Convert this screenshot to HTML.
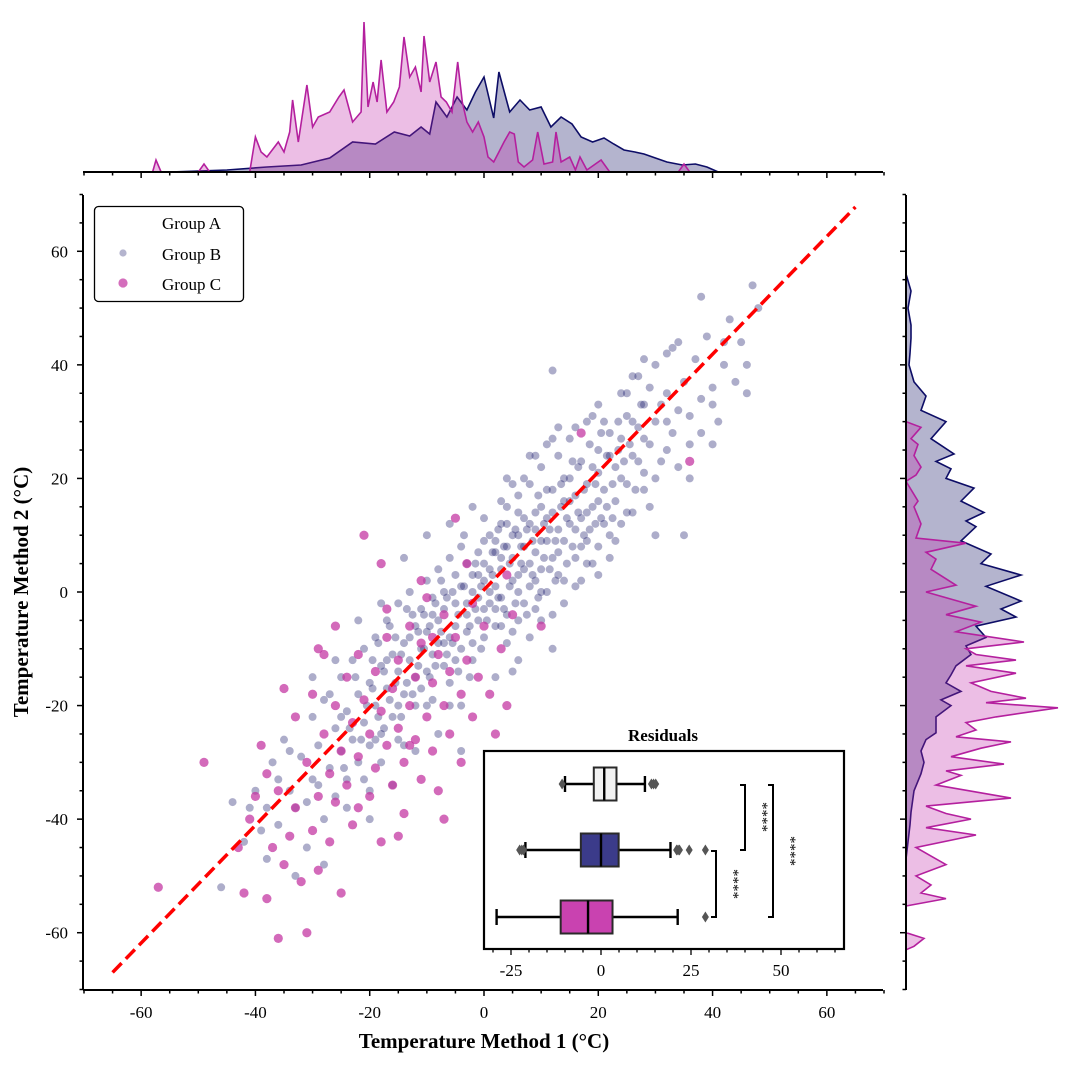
<!DOCTYPE html>
<html><head><meta charset="utf-8"><style>
html,body{margin:0;padding:0;background:#fff;}
svg{display:block;font-family:"Liberation Serif",serif;}
</style></head><body>
<svg id="chart" width="1080" height="1065" viewBox="0 0 1080 1065" xmlns="http://www.w3.org/2000/svg"></svg>
<script>
// ---- data ----
const groupBPoints = [[-44,-37],[-42,-44],[-40,-35],[-38,-47],[-37,-30],[-36,-41],[-35,-26],[-34,-35],[-33,-38],[-32,-29],[-31,-45],[-30,-22],[-30,-33],[-29,-27],[-28,-40],[-28,-19],[-27,-31],[-26,-24],[-26,-36],[-25,-15],[-25,-28],[-24,-21],[-24,-33],[-23,-12],[-23,-26],[-22,-18],[-22,-30],[-21,-23],[-21,-10],[-20,-16],[-20,-27],[-19,-20],[-19,-8],[-18,-13],[-18,-25],[-17,-17],[-17,-5],[-16,-22],[-16,-11],[-15,-14],[-15,-2],[-15,-26],[-14,-9],[-14,-18],[-13,-12],[-13,0],[-12,-6],[-12,-20],[-12,-15],[-11,-3],[-11,-10],[-10,-14],[-10,2],[-10,-7],[-9,-11],[-9,-1],[-9,-19],[-8,-5],[-8,4],[-8,-9],[-7,-13],[-7,0],[-7,-3],[-6,-8],[-6,6],[-6,-16],[-5,-2],[-5,-6],[-5,3],[-4,-10],[-4,1],[-4,8],[-3,-4],[-3,-7],[-3,5],[-2,0],[-2,-12],[-2,3],[-1,-5],[-1,7],[-1,-1],[0,2],[0,-8],[0,5],[0,-3],[1,10],[1,-2],[1,4],[2,-6],[2,7],[2,1],[3,-1],[3,12],[3,4],[4,-4],[4,8],[4,15],[5,2],[5,6],[5,-7],[6,10],[6,3],[6,17],[7,-2],[7,8],[7,13],[8,5],[8,1],[8,19],[9,11],[9,7],[9,-3],[10,15],[10,4],[10,22],[11,9],[11,13],[11,0],[12,18],[12,6],[13,11],[13,24],[13,3],[14,16],[14,9],[15,20],[15,27],[15,12],[16,6],[16,17],[17,23],[17,13],[18,30],[18,19],[18,9],[19,15],[20,25],[20,21],[20,33],[21,12],[21,18],[22,28],[23,22],[23,16],[24,35],[24,27],[25,19],[25,31],[26,24],[27,38],[27,29],[28,21],[28,33],[29,26],[30,40],[30,30],[31,23],[32,35],[33,28],[33,43],[34,32],[35,37],[36,26],[37,41],[38,34],[39,45],[40,36],[41,30],[42,40],[43,48],[44,37],[45,44],[46,35],[47,54],[48,50],[34,44],[32,42],[26,38],[22,10],[19,5],[14,-2],[6,-12],[2,-15],[-2,15],[-6,12],[-10,10],[-14,6],[-18,-2],[-22,-5],[-26,-12],[-30,-15],[-16,-34],[-20,-35],[-24,-38],[-8,-25],[-4,-20],[10,-5],[17,2],[23,9],[29,15],[36,20],[40,26],[42,44],[38,52],[28,41],[25,14],[12,27],[8,24],[4,20],[0,13],[-4,-28],[-12,-28],[-28,-48],[-46,-52],[-20,-40],[16,29],[5,-14],[12,-10],[20,8],[30,10],[-33,-50],[-38,-38],[12,39],[46,40],[35,10],[1,0],[3,6],[5,10],[7,4],[9,14],[11,18],[13,7],[15,16],[17,8],[19,22],[2,-3],[4,-9],[6,0],[8,12],[10,9],[12,14],[14,20],[16,11],[18,14],[20,16],[-1,3],[-3,-2],[-5,-12],[-7,-9],[-9,-4],[-11,-17],[-13,-8],[-15,-20],[-17,-12],[-19,-26],[22,24],[24,20],[26,30],[28,27],[31,33],[-2,-9],[0,9],[3,-6],[6,14],[9,2],
[-0.5,1],[1.5,3],[2.5,-1],[3.5,8],[4.5,1],[5.5,11],[6.5,5],[7.5,-4],[8.5,9],[9.5,17],[10.5,6],[11.5,11],[12.5,2],[13.5,15],[14.5,13],[15.5,8],[16.5,22],[17.5,18],[18.5,11],[19.5,19],[20.5,13],[21.5,24],[22.5,19],[23.5,30],[24.5,23],[25.5,26],[26.5,18],[27.5,33],[-1.5,-3],[-2.5,-6],[-3.5,1],[-4.5,-4],[-5.5,-9],[-6.5,-1],[-7.5,-7],[-8.5,-13],[-9.5,-6],[-10.5,-10],[-11.5,-13],[-12.5,-4],[-13.5,-16],[-14.5,-11],[-15.5,-8],[-16.5,-19],[-17.5,-14],[-18.5,-22],[-19.5,-17],[-20.5,-20],[-21.5,-26],[-22.5,-15],[-23.5,-24],[-24.5,-31],[0.5,-5],[1.5,7],[2.5,11],[3.5,-3],[4.5,5],[5.5,-2],[6.5,8],[7.5,11],[8.5,3],[9.5,-1],[10.5,12],[11.5,4],[12.5,9],[13.5,19],[14.5,5],[15.5,23],[16.5,14],[17.5,10],[18.5,26],[19.5,12],[20.5,28],[21.5,15],[22.5,13],[23.5,25],[-0.5,-10],[-1.5,5],[-2.5,-15],[-3.5,10],[-4.5,-14],[-5.5,0],[-6.5,-11],[-7.5,2],[-8.5,-2],[-9.5,-15],[-10.5,-4],[-11.5,-7],[-12.5,-18],[-13.5,-3],[-14.5,-22],[-15.5,-16],[-16.5,-6],[-17.5,-24],[-18.5,-9],[-19.5,-12],[3,16],[5,19],[7,20],[9,24],[11,26],[13,29],[2,9],[4,12],[6,-5],[8,-8],[10,0],[12,-4],[14,2],[16,1],[18,5],[20,3],[22,6],[24,12],[26,14],[28,18],[30,20],[32,25],[34,22],[36,31],[38,28],[40,33],[32,30],[29,36],[27,23],[25,35],[21,30],[19,31],[-6,-20],[-10,-20],[-14,-27],[-18,-30],[-21,-33],[-25,-22],[-27,-18],[-29,-34],[-31,-37],[-34,-28],[-36,-33],[-39,-42],[-41,-38]];
const groupCPoints = [[-57,-52],[-49,-30],[-42,-53],[-41,-40],[-40,-36],[-39,-27],[-38,-32],[-37,-45],[-36,-61],[-36,-35],[-35,-48],[-34,-43],[-33,-22],[-33,-38],[-32,-51],[-31,-60],[-31,-30],[-30,-42],[-30,-18],[-29,-49],[-29,-36],[-28,-25],[-28,-11],[-27,-44],[-27,-32],[-26,-20],[-26,-37],[-25,-53],[-25,-28],[-24,-15],[-24,-34],[-23,-23],[-23,-41],[-22,-11],[-22,-29],[-21,10],[-21,-19],[-20,-36],[-20,-25],[-19,-14],[-19,-31],[-18,-44],[-18,-21],[-17,-8],[-17,-27],[-16,-17],[-16,-34],[-15,-24],[-15,-12],[-14,-30],[-14,-39],[-13,-20],[-13,-6],[-12,-26],[-12,-15],[-11,-33],[-11,-9],[-10,-22],[-10,-1],[-9,-28],[-9,-16],[-8,-11],[-8,-35],[-7,-20],[-7,-4],[-6,-25],[-6,-14],[-5,-8],[-5,13],[-4,-18],[-4,-30],[-3,-12],[-2,-2],[-2,-22],[-1,-15],[0,-6],[1,-18],[2,-25],[3,-10],[4,3],[5,-4],[10,-6],[4,-20],[-3,5],[-35,-17],[-43,-45],[-38,-54],[-22,-38],[-15,-43],[-11,2],[-18,5],[-26,-6],[36,23],[17,28],[-7,-40],[-29,-10],[-17,-3],[-9,-8],[-13,-27]];
// top marginal (x value, density height)
const topBx = [-55,-45,-38,-32,-27,-23,-19,-15.7,-13,-11,-9.5,-8.4,-6.5,-4.7,-3,-1.5,0,1.7,2.6,4.5,6.3,8,10,11.7,13.5,15.4,17,19,21,22.7,24.5,26.4,28,30,32,34.7,37,39,41];
const topBh = [0,2,5,7,14,30,28,40,36,45,38,70,55,75,62,80,95,54,100,60,72,62,65,45,55,48,35,30,34,28,22,20,18,14,10,7,8,5,0];
const topCx = [-58,-57.4,-56.5,-50,-49,-48,-41,-40,-39,-38,-36,-35,-34,-33.5,-32.5,-31,-30,-29,-27,-25.4,-24.5,-23,-21.5,-21,-20.3,-19.4,-18.7,-18,-17,-15.8,-14.8,-14,-13,-12,-11,-10.5,-9.5,-8.4,-7.5,-6.6,-5.6,-4.6,-3.8,-3,-2,-1,0,0.7,1.7,2.6,3.5,4.5,5.3,6,7,8.5,9.4,10.5,12,12.6,13.5,15,16,16.8,18,20.5,22,34,35,36];
const topCh = [0,12,0,0,8,0,0,35,20,15,30,20,40,72,30,87,45,55,60,75,82,50,60,150,65,90,70,112,60,70,85,135,95,105,80,136,90,110,75,70,60,110,70,50,40,50,35,15,10,20,30,40,38,10,5,12,40,8,10,40,10,15,2,15,2,12,0,0,8,0];
// right marginal (y value, density width)
const rightBy = [56,53,50,47,44.7,42,40,37,34.5,32,30,27,24.3,23,21.7,20,18.3,16,14,12.5,11.5,9,6.7,5,3,1,-1.6,-3,-4.4,-6,-8,-9.5,-11,-13,-14.6,-16,-17.5,-19,-20,-22,-24.8,-26,-28,-30,-32,-35,-38.8,-41,-44,-47];
const rightBh = [0,5,2,5,5,4,3,8,20,15,40,25,48,30,45,40,68,55,78,60,70,55,85,75,115,80,115,95,110,70,80,60,65,50,45,40,55,35,45,30,30,20,15,18,15,8,5,4,2,0];
const rightCy = [30,29,27,26,24,22,20.6,19.5,16,15,12,9.5,8.6,7,5.8,4,1.2,0,-2.5,-4,-5.3,-7,-8.8,-10,-11,-12,-13,-14.3,-16,-17.5,-18.7,-19.5,-20.4,-22,-23,-24.3,-25.5,-26.4,-27.5,-29,-30.3,-31.5,-32.3,-34,-36.3,-37.7,-39,-40,-41.5,-42.8,-45,-46.5,-48,-50,-51.6,-53,-54,-55.3,-60,-61,-62.4,-63];
const rightCh = [0,15,5,12,8,15,10,0,12,8,15,10,60,20,30,25,50,20,70,40,75,50,118,60,70,110,60,110,65,85,120,80,152,90,60,70,50,105,75,45,98,40,55,30,105,20,40,65,20,70,10,25,40,10,25,15,40,0,0,18,8,0];
// residual boxplots
const boxGroups = ['Group A','Group B','Group C'];
const boxQ1 = [-2, -5.6, -11.2];
const boxMed = [0.9, 0, -3.6];
const boxQ3 = [4.3, 4.9, 3.2];
const boxLo = [-10, -21, -29];
const boxHi = [12.2, 19.3, 21.3];
const boxFliers = [[-10.8, 14, 14.6, 15.2], [-22, -22.6, -21.5, 21, 21.4, 21.8, 24.5, 29], [29]];
const xTicks = [-60,-40,-20,0,20,40,60];
const yTicks = [-60,-40,-20,0,20,40,60];
const insetTicks = [-25,0,25,50];

// ---- scales ----
const PX0=83, PX1=883, PY0=195, PY1=990;
const sx = v => 484 + v*(PX1-PX0)/140;
const sy = v => 592 - v*(PY1-PY0)/140;
const IX0=484, IX1=844, IY0=751, IY1=949;
const ix = v => 601 + v*3.6;
const boxY = [784, 850, 917];
const topBase = 172, rightBase = 906;

const svg = document.getElementById('chart');
const NS='http://www.w3.org/2000/svg';
function mk(tag, attrs, parent){
  const e=document.createElementNS(NS,tag);
  for(const k in attrs) e.setAttribute(k, attrs[k]);
  (parent||svg).appendChild(e); return e;
}
function txt(s, attrs, parent){ const t=mk('text',attrs,parent); t.textContent=s; return t; }

// ---- top marginal ----
const gTop = mk('g',{});


function topPath(xs, hs){
  let d='M'+sx(xs[0])+','+topBase;
  xs.forEach((x,i)=>{ d+=' L'+sx(x).toFixed(1)+','+(topBase-hs[i]).toFixed(1); });
  d+=' L'+sx(xs[xs.length-1])+','+topBase+' Z'; return d;
}
const tB = mk('path',{d:topPath(topBx,topBh),fill:'rgba(27,27,107,0.33)',stroke:'#0d0d66','stroke-width':1.6},gTop);


const tC = mk('path',{d:topPath(topCx,topCh),fill:'rgba(192,40,170,0.3)',stroke:'#b4209e','stroke-width':1.6},gTop);


mk('line',{x1:PX0,x2:PX1,y1:topBase,y2:topBase,stroke:'#000','stroke-width':2},gTop);
for(let v=-70; v<=70; v+=5){
  const major = v%20===0;
  mk('line',{x1:sx(v),x2:sx(v),y1:topBase,y2:topBase+(major?6:3.5),stroke:'#000','stroke-width':1.5},gTop);
}

// ---- right marginal ----
const gR = mk('g',{});


function rightPath(ys, hs){
  let d='M'+rightBase+','+sy(ys[0]);
  ys.forEach((y,i)=>{ d+=' L'+(rightBase+hs[i]).toFixed(1)+','+sy(y).toFixed(1); });
  d+=' L'+rightBase+','+sy(ys[ys.length-1])+' Z'; return d;
}
const rB = mk('path',{d:rightPath(rightBy,rightBh),fill:'rgba(27,27,107,0.33)',stroke:'#0d0d66','stroke-width':1.6},gR);


const rC = mk('path',{d:rightPath(rightCy,rightCh),fill:'rgba(192,40,170,0.3)',stroke:'#b4209e','stroke-width':1.6},gR);


mk('line',{x1:rightBase,x2:rightBase,y1:PY0,y2:PY1,stroke:'#000','stroke-width':2},gR);
for(let v=-70; v<=70; v+=5){
  const major = v%20===0;
  mk('line',{x1:rightBase-(major?6:3.5),x2:rightBase,y1:sy(v),y2:sy(v),stroke:'#000','stroke-width':1.5},gR);
}

// ---- scatter ----
const gS = mk('g',{});


groupBPoints.forEach(p=>{
  const c = mk('circle',{cx:sx(p[0]),cy:sy(p[1]),r:4,fill:'#1b1b6b','fill-opacity':0.36},gS);
  
  
});
groupCPoints.forEach(p=>{
  const c = mk('circle',{cx:sx(p[0]),cy:sy(p[1]),r:4.6,fill:'#c2309f','fill-opacity':0.72},gS);
  
  
});
const ref = mk('line',{x1:sx(-65),y1:sy(-67),x2:sx(65),y2:sy(67.8),stroke:'#ff0000','stroke-width':3.5,'stroke-dasharray':'13,6'});



// ---- main axes ----
const gA = mk('g',{});


mk('line',{x1:PX0,x2:PX0,y1:PY0,y2:PY1,stroke:'#000','stroke-width':2},gA);
mk('line',{x1:PX0,x2:PX1,y1:PY1,y2:PY1,stroke:'#000','stroke-width':2},gA);
for(let v=-70; v<=70; v+=5){
  const major=v%20===0;
  mk('line',{x1:sx(v),x2:sx(v),y1:PY1,y2:PY1+(major?6:3.5),stroke:'#000','stroke-width':1.5},gA);
  mk('line',{x1:PX0-(major?6:3.5),x2:PX0,y1:sy(v),y2:sy(v),stroke:'#000','stroke-width':1.5},gA);
}
xTicks.forEach(v=>{
  const t=txt(String(v),{x:sx(v),y:1018,'text-anchor':'middle','font-size':17},gA);
  
  
});
yTicks.forEach(v=>{
  const t=txt(String(v),{x:68,y:sy(v)+6,'text-anchor':'end','font-size':17},gA);
  
  
});
const xl=txt('Temperature Method 1 (°C)',{x:484,y:1048,'text-anchor':'middle','font-size':21,'font-weight':'bold'});


const yl=txt('Temperature Method 2 (°C)',{x:0,y:0,'text-anchor':'middle','font-size':21,'font-weight':'bold',transform:'translate(28,592) rotate(-90)'});



// ---- legend ----
const gL = mk('g',{});


mk('rect',{x:94.5,y:206.5,width:149,height:95,rx:4,fill:'#fff',stroke:'#000','stroke-width':1.3},gL);
const l1=txt('Group A',{x:162,y:229,'font-size':17},gL);


mk('circle',{cx:123,cy:253,r:3.6,fill:'#1b1b6b','fill-opacity':0.33},gL);
const l2=txt('Group B',{x:162,y:260,'font-size':17},gL);


mk('circle',{cx:123,cy:283,r:4.6,fill:'#c2309f','fill-opacity':0.7},gL);
const l3=txt('Group C',{x:162,y:290,'font-size':17},gL);



// ---- inset boxplot ----
const gI = mk('g',{});


mk('rect',{x:IX0,y:IY0,width:IX1-IX0,height:IY1-IY0,fill:'#fff',stroke:'#000','stroke-width':2.2},gI);
const it=txt('Residuals',{x:663,y:741,'text-anchor':'middle','font-size':17,'font-weight':'bold'},gI);


for(let v=-30; v<=65; v+=5){
  const major=v%25===0;
  mk('line',{x1:ix(v),x2:ix(v),y1:IY1,y2:IY1+(major?6:3.5),stroke:'#000','stroke-width':1.3},gI);
}
insetTicks.forEach(v=>{
  const t=txt(String(v),{x:ix(v),y:976,'text-anchor':'middle','font-size':17},gI);
  
  
});
const boxFill=['#f2f2f2','#3b3b8a','#c942b0'];
boxGroups.forEach((g,i)=>{
  const y=boxY[i], h=33;
  const bg=mk('g',{},gI);
  
  
  mk('line',{x1:ix(boxLo[i]),x2:ix(boxQ1[i]),y1:y,y2:y,stroke:'#000','stroke-width':2.4},bg);
  mk('line',{x1:ix(boxQ3[i]),x2:ix(boxHi[i]),y1:y,y2:y,stroke:'#000','stroke-width':2.4},bg);
  mk('line',{x1:ix(boxLo[i]),x2:ix(boxLo[i]),y1:y-8,y2:y+8,stroke:'#000','stroke-width':2.4},bg);
  mk('line',{x1:ix(boxHi[i]),x2:ix(boxHi[i]),y1:y-8,y2:y+8,stroke:'#000','stroke-width':2.4},bg);
  mk('rect',{x:ix(boxQ1[i]),y:y-h/2,width:ix(boxQ3[i])-ix(boxQ1[i]),height:h,fill:boxFill[i],stroke:'#2a2a2a','stroke-width':2},bg);
  mk('line',{x1:ix(boxMed[i]),x2:ix(boxMed[i]),y1:y-h/2,y2:y+h/2,stroke:'#000','stroke-width':2.4},bg);
  boxFliers[i].forEach(f=>{
    const cx=ix(f);
    mk('path',{d:`M${cx-3.5},${y} L${cx},${y-5.5} L${cx+3.5},${y} L${cx},${y+5.5} Z`,fill:'#555'},bg);
  });
});
function bracket(x, y1, y2, sx2, sy2){
  mk('path',{d:`M${x-5},${y1} L${x},${y1} L${x},${y2} L${x-5},${y2}`,fill:'none',stroke:'#000','stroke-width':2},gI);
  const s=txt('****',{x:0,y:0,'text-anchor':'middle','font-size':15,transform:`translate(${sx2},${sy2}) rotate(90)`},gI);
  
  
}
bracket(716, 851, 917, 729, 884);
bracket(745, 785, 850, 758, 817);
bracket(773, 785, 917, 786, 851);
</script>
</body></html>
